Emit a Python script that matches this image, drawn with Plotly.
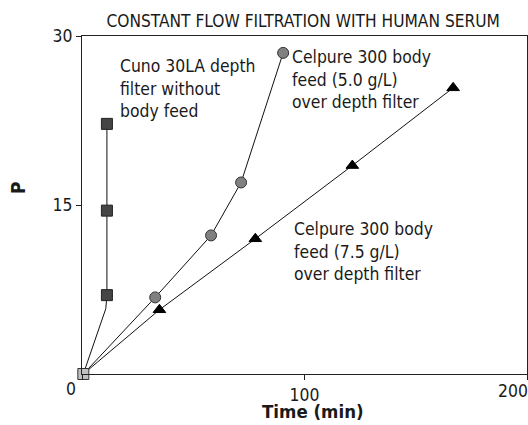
import plotly.graph_objects as go

# Data
origin_x = [0.6]
origin_y = [0.0]

cuno_x = [0.6, 10.7, 11.2, 11.2, 11.2]
cuno_y = [0.0, 5.8, 7.0, 14.5, 22.2]
cuno_marker = [False, False, True, True, True]

cel50_x = [0.6, 32.9, 58.0, 71.5, 90.4]
cel50_y = [0.0, 6.8, 12.3, 17.0, 28.5]

cel75_x = [0.6, 34.8, 77.9, 121.5, 166.8]
cel75_y = [0.0, 5.7, 12.0, 18.5, 25.4]

x_ticks = [0, 100, 200]
y_ticks = [15, 30]

FONT = "DejaVu Sans Condensed"
TXT = "#1a1a1a"
FS = 17.4

fig = go.Figure()

# lines
for xs, ys in [(cuno_x, cuno_y), (cel50_x, cel50_y), (cel75_x, cel75_y)]:
    fig.add_trace(go.Scatter(x=xs, y=ys, mode="lines",
                             line=dict(color="#111111", width=1),
                             showlegend=False, hoverinfo="skip"))

# markers
fig.add_trace(go.Scatter(
    x=[x for x, m in zip(cuno_x, cuno_marker) if m],
    y=[y for y, m in zip(cuno_y, cuno_marker) if m],
    mode="markers", cliponaxis=False,
    marker=dict(symbol="square", size=11, color="#454545",
                line=dict(color="#222222", width=1)),
    showlegend=False))
fig.add_trace(go.Scatter(
    x=cel50_x[1:], y=cel50_y[1:], mode="markers", cliponaxis=False,
    marker=dict(symbol="circle", size=11, color="#808080",
                line=dict(color="#333333", width=1)),
    showlegend=False))
fig.add_trace(go.Scatter(
    x=cel75_x[1:], y=cel75_y[1:], mode="markers", cliponaxis=False,
    marker=dict(symbol="triangle-up", size=11, color="#000000",
                line=dict(color="#000000", width=1)),
    showlegend=False))
fig.add_trace(go.Scatter(
    x=origin_x, y=origin_y, mode="markers", cliponaxis=False,
    marker=dict(symbol="square", size=11, color="#c0c0c0",
                line=dict(color="#333333", width=1)),
    showlegend=False))

ann_font = dict(family=FONT, size=FS, color=TXT)
annotations = [
    dict(x=16.2, y=25.3, xref="x", yref="y", xanchor="left", yanchor="middle",
         align="left", showarrow=False, font=ann_font,
         text="Cuno 30LA depth<br>filter without<br>body feed"),
    dict(x=93.7, y=26.1, xref="x", yref="y", xanchor="left", yanchor="middle",
         align="left", showarrow=False, font=ann_font,
         text="Celpure 300 body<br>feed (5.0 g/L)<br>over depth filter"),
    dict(x=94.5, y=10.85, xref="x", yref="y", xanchor="left", yanchor="middle",
         align="left", showarrow=False, font=ann_font,
         text="Celpure 300 body<br>feed (7.5 g/L)<br>over depth filter"),
    # axis titles
    dict(x=0.519, y=-0.111, xref="paper", yref="paper", xanchor="center",
         yanchor="middle", showarrow=False,
         font=dict(family=FONT, size=18.5, color=TXT),
         text="<b>Time (min)</b>"),
    dict(x=-0.144, y=0.553, xref="paper", yref="paper", xanchor="center",
         yanchor="middle", showarrow=False, textangle=-90,
         font=dict(family=FONT, size=19, color=TXT),
         text="<b>P</b>"),
    # x tick labels at the ends (shifted as in the reference)
    dict(x=x_ticks[0], y=0, xref="x", yref="y", xanchor="center", yanchor="middle",
         xshift=-11, yshift=-15, showarrow=False,
         font=dict(family=FONT, size=FS, color=TXT), text=str(x_ticks[0])),
    dict(x=x_ticks[2], y=0, xref="x", yref="y", xanchor="center", yanchor="middle",
         xshift=-14, yshift=-17, showarrow=False,
         font=dict(family=FONT, size=FS, color=TXT), text=str(x_ticks[2])),
]

fig.update_layout(
    width=528, height=425,
    margin=dict(l=82, r=1, t=36, b=51),
    paper_bgcolor="white", plot_bgcolor="white",
    font=dict(family=FONT, size=FS, color=TXT),
    title=dict(text="CONSTANT FLOW FILTRATION WITH HUMAN SERUM",
               x=0.497, xref="paper", xanchor="center",
               y=1 - 21 / 425, yanchor="middle",
               font=dict(family=FONT, size=17.2, color=TXT)),
    annotations=annotations,
    showlegend=False,
)

fig.update_xaxes(range=[0, 200], tickvals=x_ticks,
                 ticktext=["", str(x_ticks[1]), ""],
                 ticks="outside", ticklen=5, tickcolor="#222",
                 showline=True, linecolor="#222", linewidth=1, mirror=True,
                 showgrid=False, zeroline=False, automargin=False,
                 tickfont=dict(family=FONT, size=FS, color=TXT))
fig.update_yaxes(range=[0, 30], tickvals=y_ticks,
                 ticks="outside", ticklen=5, tickcolor="#222",
                 showline=True, linecolor="#222", linewidth=1, mirror=True,
                 showgrid=False, zeroline=False, automargin=False,
                 tickfont=dict(family=FONT, size=FS, color=TXT))

fig.write_html("out.html",
               config={"displayModeBar": False},
               post_script="document.body.style.margin='0px';document.body.style.padding='0px';")
